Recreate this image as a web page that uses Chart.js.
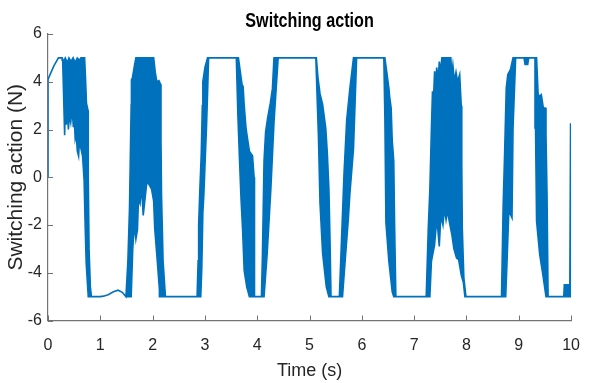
<!DOCTYPE html>
<html>
<head>
<meta charset="utf-8">
<script src="https://cdn.jsdelivr.net/npm/chart.js@4.4.1/dist/chart.umd.min.js"></script>
<style>
  html, body { margin: 0; padding: 0; background: #fff; }
  #chart { display: block; }
</style>
</head>
<body>
<canvas id="chart" width="595" height="383"></canvas>
<script>
const chartTitle = "Switching action";
const xAxisLabel = "Time (s)";
const yAxisLabel = "Switching action (N)";
const xTickValues = [0, 1, 2, 3, 4, 5, 6, 7, 8, 9, 10];
const yTickValues = [-6, -4, -2, 0, 2, 4, 6];

// the chattering is too dense to trace stroke by stroke, so the band is
// drawn between its upper and lower envelope as [time, force]
const upperEnvelope = [
  [0, 0], [0, 4.1], [0.11, 4.65], [0.2, 5], [0.27, 5], [0.3, 4.85], [0.33, 5], [0.37, 4.8],
  [0.4, 5], [0.44, 4.85], [0.48, 5], [0.52, 4.8], [0.56, 5], [0.6, 4.9], [0.63, 5], [0.7, 5],
  [0.72, 4.0], [0.735, 3.1], [0.765, 2.8], [0.77, 0], [0.785, -3.0], [0.81, -4.6], [0.83, -5],
  [1.0, -5], [1.06, -4.98], [1.15, -4.92], [1.25, -4.8], [1.34, -4.73], [1.42, -4.82], [1.49, -5],
  [1.527, -3.52], [1.558, -1.29], [1.59, 3.04], [1.595, 4.08], [1.614, 4.16], [1.65, 4.64], [1.68, 5],
  [2.02, 5], [2.05, 4.4], [2.08, 4.0], [2.12, 4.05], [2.15, 3.9], [2.16, 1.5], [2.17, -0.73],
  [2.2, -3.52], [2.245, -5],
  [2.85, -5], [2.87, -3.5], [2.88, -2.0], [2.9, -0.7], [2.93, 1.0], [2.95, 3.0], [2.96, 4.0],
  [3.0, 4.6], [3.05, 5],
  [3.64, 5], [3.71, 3.88], [3.73, 3.8], [3.75, 3.04], [3.78, 2.2], [3.79, 1.98], [3.85, 1.09],
  [3.91, 0.9], [3.94, 0.0], [3.945, -0.6], [3.95, -5],
  [4.08, -5], [4.1, -3.2], [4.13, 0.7], [4.16, 1.9], [4.2, 2.5], [4.25, 3.1], [4.29, 3.7], [4.32, 5],
  [5.13, 5], [5.16, 4.2], [5.2, 3.5], [5.25, 3.05], [5.31, 2.05], [5.34, 1.0], [5.37, -0.5],
  [5.39, -2.5], [5.41, -5],
  [5.57, -5], [5.62, -2.1], [5.66, 0.2], [5.71, 2.4], [5.77, 3.7], [5.84, 5],
  [6.44, 5], [6.516, 3.74], [6.53, 3.4], [6.56, 2.9], [6.58, 1.56], [6.61, 0.67], [6.625, -1.9],
  [6.65, -5],
  [7.23, -5], [7.27, -2.13], [7.3, -0.5], [7.33, 2.07], [7.35, 3.6], [7.37, 3.3], [7.39, 4.44],
  [7.41, 3.9], [7.43, 4.6], [7.46, 4.1], [7.48, 4.85], [7.5, 4.4], [7.53, 5], [7.7, 5],
  [7.72, 4.3], [7.74, 4.7], [7.77, 4.0], [7.8, 4.4], [7.83, 4.0], [7.87, 4.3], [7.9, 3.0],
  [7.91, 0.5], [7.92, -2.13], [7.95, -4.22], [7.99, -5],
  [8.67, -5], [8.7, -1.29], [8.73, 1.09], [8.76, 3.74], [8.79, 4.3], [8.84, 4.51], [8.89, 5],
  [9.34, 5], [9.37, 3.46], [9.4, 3.4], [9.43, 3.46], [9.47, 2.9], [9.51, 2.9], [9.52, 1.79],
  [9.54, -0.73], [9.56, -5],
  [9.86, -5], [9.87, -4.5], [9.96, -4.5], [9.975, -5], [9.99, 2.26], [10, -1]
];

const lowerEnvelope = [
  [0, 0], [0, 4.1], [0.11, 4.65], [0.2, 5], [0.27, 5], [0.28, 4.9], [0.3, 3.3], [0.318, 1.76],
  [0.33, 2.9], [0.35, 2.2], [0.37, 2.8], [0.39, 2.0], [0.41, 2.6], [0.435, 2.3], [0.46, 2.9],
  [0.485, 2.1], [0.5, 2.5], [0.52, 1.6], [0.54, 1.8], [0.56, 1.1], [0.585, 0.88], [0.6, 1.5],
  [0.63, 1.2], [0.66, 0.9], [0.69, -0.1], [0.71, -2.0], [0.73, -3.6], [0.77, -5],
  [1.0, -5], [1.06, -4.98], [1.15, -4.92], [1.25, -4.8], [1.34, -4.73], [1.42, -4.82], [1.49, -5],
  [1.59, -5], [1.62, -3.0], [1.65, -2.0], [1.68, -2.6], [1.71, -2.2], [1.73, -0.9], [1.76, -1.1],
  [1.79, -0.4], [1.82, -1.6], [1.85, -1.0], [1.89, -0.2], [1.93, -0.3], [1.98, -0.5], [2.02, -1.0],
  [2.04, -2.13], [2.085, -3.38], [2.13, -4.7], [2.14, -5],
  [2.92, -5], [2.94, -3.8], [2.96, -1.5], [2.98, -0.7], [3.01, 1.0], [3.03, 2.1], [3.05, 3.5], [3.07, 5],
  [3.6, 5], [3.63, 2.6], [3.66, 0.8], [3.69, -0.9], [3.72, -2.2], [3.75, -3.9], [3.8, -4.6], [3.85, -5],
  [4.13, -5], [4.19, -3.2], [4.26, -0.5], [4.32, 2.3], [4.4, 5],
  [5.12, 5], [5.17, 1.7], [5.2, -1.09], [5.25, -3.19], [5.32, -4.59], [5.37, -5],
  [5.63, -5], [5.68, -3.52], [5.74, -1.79], [5.77, -0.73], [5.84, 1.2], [5.9, 5],
  [6.42, 5], [6.44, 2.5], [6.46, -1.9], [6.516, -3.52], [6.58, -4.8], [6.61, -5],
  [7.3, -5], [7.33, -3.52], [7.39, -2.83], [7.42, -2.07], [7.45, -2.13], [7.48, -2.9], [7.51, -1.6],
  [7.55, -2.0], [7.58, -1.3], [7.61, -1.79], [7.64, -1.4], [7.67, -1.84], [7.72, -2.4], [7.76, -3.0],
  [7.81, -3.38], [7.85, -3.45], [7.9, -4.1], [7.94, -4.4], [7.97, -5],
  [8.75, -5], [8.78, -3.24], [8.81, -1.4], [8.87, -1.7], [8.89, 2.07], [8.94, 5], [9.1, 5],
  [9.12, 4.72], [9.17, 4.72], [9.19, 5], [9.31, 5], [9.32, 2.07], [9.34, -1.84], [9.4, -3.24],
  [9.46, -4.08], [9.52, -5],
  [9.99, -5], [10, -1]
];

const lineBlue = "#0072BD";
const axisGray = "#737373";
const textDark = "#262626";
const sansFont = "'Liberation Sans', Arial, sans-serif";

// one closed outline: along the upper envelope, back along the lower one
const bandOutline = upperEnvelope.concat(lowerEnvelope.slice().reverse());
const toPoints = (rows) => rows.map(([t, f]) => ({ x: t, y: f }));

// MATLAB style: tick marks point into the plot
const inwardTicks = {
  id: "inwardTicks",
  afterDraw(chart) {
    const { ctx, chartArea, scales } = chart;
    ctx.save();
    ctx.strokeStyle = axisGray;
    ctx.lineWidth = 1;
    scales.x.ticks.forEach((t) => {
      const px = Math.round(scales.x.getPixelForValue(t.value)) + 0.5;
      ctx.beginPath();
      ctx.moveTo(px, chartArea.bottom);
      ctx.lineTo(px, chartArea.bottom - 5);
      ctx.stroke();
    });
    scales.y.ticks.forEach((t) => {
      const py = Math.round(scales.y.getPixelForValue(t.value)) + 0.5;
      ctx.beginPath();
      ctx.moveTo(chartArea.left, py);
      ctx.lineTo(chartArea.left + 5, py);
      ctx.stroke();
    });
    ctx.restore();
  },
};

// title centred over the axes; the original lettering is tall and narrow
const plotTitle = {
  id: "plotTitle",
  afterDraw(chart) {
    const { ctx, chartArea } = chart;
    ctx.save();
    ctx.translate((chartArea.left + chartArea.right) / 2, 26.5);
    ctx.scale(0.77, 1);
    ctx.fillStyle = "#000";
    ctx.font = "bold 21px " + sansFont;
    ctx.textAlign = "center";
    ctx.textBaseline = "alphabetic";
    ctx.fillText(chartTitle, 0, 0);
    ctx.restore();
  },
};

new Chart(document.getElementById("chart"), {
  type: "line",
  data: {
    datasets: [
      {
        label: "Switching action",
        data: toPoints(bandOutline),
        borderColor: lineBlue,
        backgroundColor: lineBlue,
        borderWidth: 1.6,
        pointRadius: 0,
        tension: 0,
        fill: "shape",
      },
    ],
  },
  options: {
    responsive: false,
    animation: false,
    devicePixelRatio: 1,
    layout: { padding: { top: 34, right: 9.5, left: 0, bottom: 0 } },
    plugins: {
      legend: { display: false },
      tooltip: { enabled: false },
      title: { display: false },
    },
    scales: {
      x: {
        type: "linear",
        min: 0,
        max: 10,
        afterBuildTicks: (scale) => {
          scale.ticks = xTickValues.map((v) => ({ value: v }));
        },
        afterFit: (scale) => {
          scale.height = 62.5;
        },
        grid: { display: false, drawTicks: false },
        border: { display: true, color: axisGray, width: 1.2 },
        ticks: {
          padding: 15,
          color: textDark,
          font: { family: sansFont, size: 16 },
          maxRotation: 0,
        },
        title: {
          display: true,
          text: xAxisLabel,
          color: textDark,
          font: { family: sansFont, size: 18 },
          padding: { top: 0, bottom: 1 },
        },
      },
      y: {
        type: "linear",
        min: -6,
        max: 6,
        afterBuildTicks: (scale) => {
          scale.ticks = yTickValues.map((v) => ({ value: v }));
        },
        afterFit: (scale) => {
          scale.width = 48;
        },
        grid: { display: false, drawTicks: false },
        border: { display: true, color: axisGray, width: 1.2 },
        ticks: {
          padding: 6,
          color: textDark,
          font: { family: sansFont, size: 16 },
        },
        title: {
          display: true,
          text: yAxisLabel,
          color: textDark,
          font: { family: sansFont, size: 21 },
          padding: { top: 3.5, bottom: 0 },
        },
      },
    },
  },
  plugins: [inwardTicks, plotTitle],
});
</script>
</body>
</html>
